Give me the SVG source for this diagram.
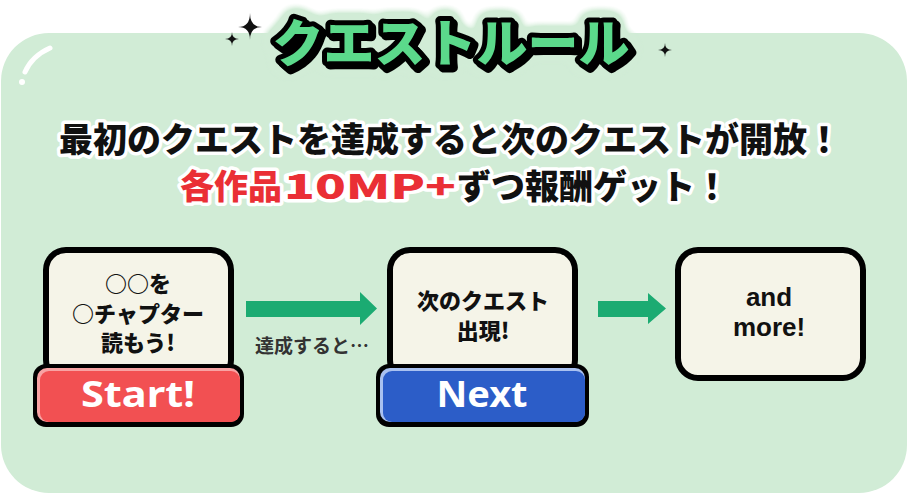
<svg xmlns="http://www.w3.org/2000/svg" width="909" height="495" viewBox="0 0 909 495">
<defs>
<filter id="titleFx" x="-15%" y="-70%" width="130%" height="240%" color-interpolation-filters="sRGB">
<feGaussianBlur in="SourceAlpha" stdDeviation="7" result="b"/>
<feComponentTransfer in="b" result="halo"><feFuncA type="linear" slope="8" intercept="-0.2"/></feComponentTransfer>
<feFlood flood-color="#d1ecd6"/>
<feComposite in2="halo" operator="in" result="haloC"/>
<feOffset in="SourceAlpha" dx="3" dy="3" result="sh"/>
<feFlood flood-color="#000"/>
<feComposite in2="sh" operator="in" result="shC"/>
<feMerge><feMergeNode in="haloC"/><feMergeNode in="shC"/><feMergeNode in="SourceGraphic"/></feMerge>
</filter>
</defs>
<style>
.jp{font-family:"Noto Sans CJK JP","Noto Sans",sans-serif}
.lead{font-size:34px;font-weight:900;stroke:#fff;stroke-width:7;stroke-linejoin:round;paint-order:stroke fill}
.card{fill:#f5f4e8;stroke:#000;stroke-width:6}
.ctext{font-size:22px;font-weight:900;fill:#111;text-anchor:middle}
.btn{font-family:"Noto Sans","Liberation Sans",sans-serif;font-size:36px;font-weight:700;fill:#fff;text-anchor:middle}
.more{font-family:"Liberation Sans",Arial,sans-serif;font-size:26px;font-weight:700;fill:#111;text-anchor:middle}
.arrow{fill:#1bab72}
.star{fill:#111}
</style>
<rect id="panel" x="1" y="33" width="906" height="460" rx="48" fill="#d1ecd6"/>
<path d="M50 48 Q32 56 25 72" fill="none" stroke="#fff" stroke-width="5" stroke-linecap="round"/>
<circle cx="22" cy="82" r="3" fill="#fff"/>
<g id="title">
<text class="jp" x="451" y="62" font-size="51" font-weight="900" text-anchor="middle" fill="#5bd98b" stroke="#000" stroke-width="10" stroke-linejoin="round" paint-order="stroke fill" filter="url(#titleFx)">クエストルール</text>
<path class="star" d="M250 13 Q250 27 262 27 Q250 27 250 40 Q250 27 238 27 Q250 27 250 13Z"/>
<path class="star" d="M232 32 Q232 39 239 39 Q232 39 232 46 Q232 39 225 39 Q232 39 232 32Z"/>
<path class="star" d="M665 43 Q665 50 672 50 Q665 50 665 57 Q665 50 658 50 Q665 50 665 43Z"/>
</g>
<g id="lead">
<text class="jp lead" x="450" y="152" text-anchor="middle" fill="#111">最初のクエストを達成すると次のクエストが開放！</text>
<text class="jp lead" x="180" y="199" fill="#ea2f35">各作品</text>
<text class="jp lead" x="284" y="199" fill="#ea2f35" font-size="38" textLength="172" lengthAdjust="spacingAndGlyphs">10MP+</text>
<text class="jp lead" x="457" y="199" fill="#111">ずつ報酬ゲット！</text>
</g>
<g id="connectors">
<path class="arrow" d="M246 301 H360 V292 L377 308.5 L360 325 V317 H246Z"/>
<text class="jp" x="312" y="353" font-size="19" font-weight="700" fill="#333" text-anchor="middle">達成すると…</text>
<path class="arrow" d="M598 301 H648 V293 L666 308.5 L648 324 V317 H598Z"/>
</g>
<g id="node-start">
<rect class="card" x="46" y="250" width="185" height="130" rx="20"/>
<text class="jp ctext" x="138" y="292">○○を</text>
<text class="jp ctext" x="138" y="322">○チャプター</text>
<text class="jp ctext" x="138" y="351">読もう!</text>
<rect x="33" y="364" width="211" height="63" rx="13" fill="#000"/>
<rect x="37" y="368" width="203" height="54" rx="10" fill="#f8a3a3"/>
<rect x="40" y="371" width="200" height="51" rx="9" fill="#f25052"/>
<text class="btn" x="138" y="407" textLength="114" lengthAdjust="spacingAndGlyphs">Start!</text>
</g>
<g id="node-next">
<rect class="card" x="390" y="250" width="185" height="130" rx="20"/>
<text class="jp ctext" x="483" y="309">次のクエスト</text>
<text class="jp ctext" x="483" y="339">出現!</text>
<rect x="376" y="364" width="213" height="63" rx="13" fill="#000"/>
<rect x="380" y="368" width="205" height="54" rx="10" fill="#a9c1f0"/>
<rect x="383" y="371" width="202" height="51" rx="9" fill="#2c5dc8"/>
<text class="btn" x="482" y="407" textLength="91" lengthAdjust="spacingAndGlyphs">Next</text>
</g>
<g id="node-more">
<rect class="card" x="678" y="250" width="185" height="128" rx="20"/>
<text class="more" x="769" y="306">and</text>
<text class="more" x="769" y="336">more!</text>
</g>
</svg>
